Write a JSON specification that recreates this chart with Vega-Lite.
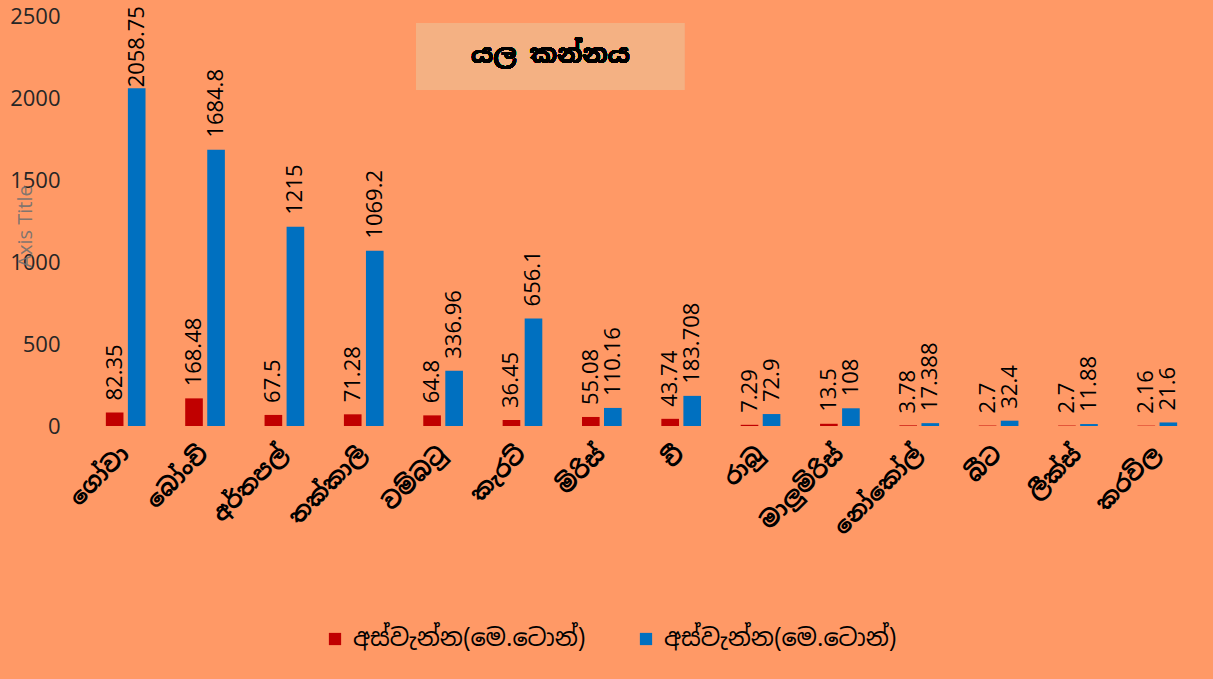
{
  "$schema": "https://vega.github.io/schema/vega-lite/v6.json",
  "width": 1111,
  "height": 410,
  "autosize": "none",
  "padding": {"left": 86, "top": 16, "right": 16, "bottom": 253},
  "background": "#FF9966",
  "config": {"view": {"stroke": null}},
  "data": {"values": [
    {"crop": "ගෝවා", "series": "A", "value": 82.35, "lbl": "82.35"},
    {"crop": "ගෝවා", "series": "B", "value": 2058.75, "lbl": "2058.75"},
    {"crop": "බෝංචි", "series": "A", "value": 168.48, "lbl": "168.48"},
    {"crop": "බෝංචි", "series": "B", "value": 1684.8, "lbl": "1684.8"},
    {"crop": "අර්තපල්", "series": "A", "value": 67.5, "lbl": "67.5"},
    {"crop": "අර්තපල්", "series": "B", "value": 1215, "lbl": "1215"},
    {"crop": "තක්කාලි", "series": "A", "value": 71.28, "lbl": "71.28"},
    {"crop": "තක්කාලි", "series": "B", "value": 1069.2, "lbl": "1069.2"},
    {"crop": "වම්බටු", "series": "A", "value": 64.8, "lbl": "64.8"},
    {"crop": "වම්බටු", "series": "B", "value": 336.96, "lbl": "336.96"},
    {"crop": "කැරට්", "series": "A", "value": 36.45, "lbl": "36.45"},
    {"crop": "කැරට්", "series": "B", "value": 656.1, "lbl": "656.1"},
    {"crop": "මිරිස්", "series": "A", "value": 55.08, "lbl": "55.08"},
    {"crop": "මිරිස්", "series": "B", "value": 110.16, "lbl": "110.16"},
    {"crop": "චී", "series": "A", "value": 43.74, "lbl": "43.74"},
    {"crop": "චී", "series": "B", "value": 183.708, "lbl": "183.708"},
    {"crop": "රාබු", "series": "A", "value": 7.29, "lbl": "7.29"},
    {"crop": "රාබු", "series": "B", "value": 72.9, "lbl": "72.9"},
    {"crop": "මාලුමිරිස්", "series": "A", "value": 13.5, "lbl": "13.5"},
    {"crop": "මාලුමිරිස්", "series": "B", "value": 108, "lbl": "108"},
    {"crop": "නෝකෝල්", "series": "A", "value": 3.78, "lbl": "3.78"},
    {"crop": "නෝකෝල්", "series": "B", "value": 17.388, "lbl": "17.388"},
    {"crop": "බීට", "series": "A", "value": 2.7, "lbl": "2.7"},
    {"crop": "බීට", "series": "B", "value": 32.4, "lbl": "32.4"},
    {"crop": "ලීක්ස්", "series": "A", "value": 2.7, "lbl": "2.7"},
    {"crop": "ලීක්ස්", "series": "B", "value": 11.88, "lbl": "11.88"},
    {"crop": "කරවිල", "series": "A", "value": 2.16, "lbl": "2.16"},
    {"crop": "කරවිල", "series": "B", "value": 21.6, "lbl": "21.6"}
  ]},
  "encoding": {
    "x": {
      "field": "crop", "type": "nominal", "sort": null,
      "scale": {
        "domain": ["ගෝවා", "බෝංචි", "අර්තපල්", "තක්කාලි", "වම්බටු", "කැරට්", "මිරිස්", "චී", "රාබු", "මාලුමිරිස්", "නෝකෝල්", "බීට", "ලීක්ස්", "කරවිල"],
        "paddingInner": 0.5, "paddingOuter": 0.25
      },
      "axis": {
        "title": null, "labelAngle": -45, "labelAlign": "right", "labelBaseline": "middle",
        "labelPadding": 24, "labelFontSize": 23, "labelFontWeight": "bold",
        "labelFont": "Noto Sans Sinhala, Iskoola Pota, Noto Sans, sans-serif",
        "labelColor": "#000000", "ticks": false, "domain": false, "grid": false,
        "labelLimit": 300
      }
    }
  },
  "layer": [
    {
      "mark": {"type": "rect", "fill": "#F4B183", "xOffset": -27, "x2Offset": 3},
      "encoding": {
        "x": {"datum": "වම්බටු"},
        "x2": {"datum": "චී"},
        "y": {"datum": 2457, "type": "quantitative"},
        "y2": {"datum": 2049}
      }
    },
    {
      "mark": {"type": "text", "fontSize": 26, "fontWeight": "bold", "color": "#000000",
               "font": "Noto Sans Sinhala, Iskoola Pota, Noto Sans, sans-serif", "dx": 28,
               "align": "center", "baseline": "middle"},
      "encoding": {
        "x": {"datum": "කැරට්", "bandPosition": 0.5},
        "y": {"datum": 2260, "type": "quantitative"},
        "text": {"value": "යල  කන්නය"}
      }
    },
    {
      "mark": {"type": "bar"},
      "encoding": {
        "xOffset": {"field": "series", "type": "nominal", "scale": {"paddingInner": 0.2, "paddingOuter": 0}},
        "y": {
          "field": "value", "type": "quantitative",
          "scale": {"domain": [0, 2500], "nice": false},
          "axis": {
            "values": [0, 500, 1000, 1500, 2000, 2500], "format": "d",
            "title": "Axis Title", "titleColor": "#707070", "titleFontSize": 20,
            "titleFont": "Open Sans", "titleFontWeight": "normal",
            "titleX": -61, "titleY": 210, "titleAlign": "center", "titleBaseline": "middle",
            "titleAngle": -90, "titleOpacity": 0.9,
            "labelFontSize": 22, "labelFont": "Open Sans", "labelColor": "#262626",
            "labelPadding": 26, "ticks": false, "domain": false,
            "gridColor": "#D9D9D9", "gridWidth": 2
          }
        },
        "color": {
          "field": "series", "type": "nominal",
          "scale": {"domain": ["A", "B"], "range": ["#C00000", "#0070C0"]},
          "legend": {
            "orient": "none", "direction": "horizontal", "legendX": 237, "legendY": 611,
            "title": null, "symbolType": "square", "symbolSize": 150,
            "symbolStrokeWidth": 0, "labelFontSize": 24, "labelLimit": 400,
            "labelFont": "Noto Sans Sinhala, Iskoola Pota, Noto Sans, sans-serif",
            "labelColor": "#000000", "labelExpr": "'අස්වැන්න(මෙ.ටොන්)'",
            "columnPadding": 48, "symbolOffset": 0, "labelOffset": 6
          }
        }
      }
    },
    {
      "mark": {"type": "text", "angle": 270, "align": "left", "baseline": "middle",
               "dx": {"expr": "datum.value > 2000 ? 1 : 12"}, "fontSize": 22, "font": "Open Sans", "color": "#000000"},
      "encoding": {
        "xOffset": {"field": "series", "type": "nominal", "scale": {"paddingInner": 0.2, "paddingOuter": 0}},
        "y": {"field": "value", "type": "quantitative"},
        "text": {"field": "lbl", "type": "nominal"}
      }
    }
  ]
}
